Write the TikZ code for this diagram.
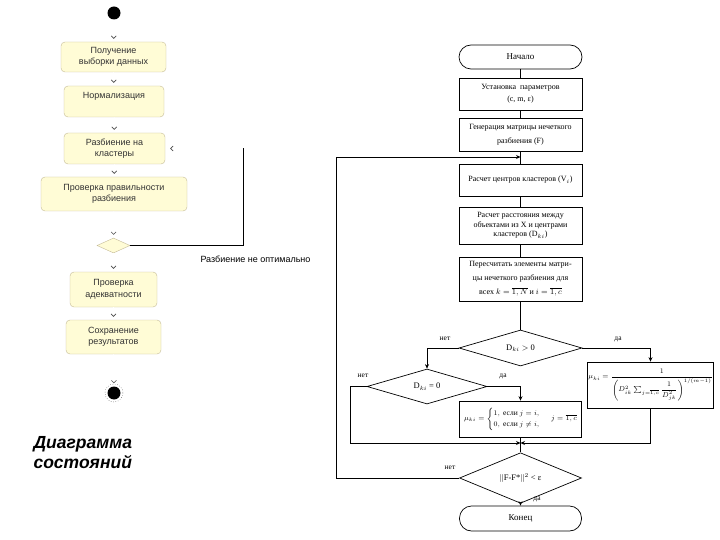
\documentclass[tikz,border=0pt]{standalone}
\usepackage{amsmath}
\usepackage{fontspec}
\setmainfont{Liberation Serif}
\setsansfont{Liberation Sans}
\usetikzlibrary{shapes.geometric,arrows.meta}

\definecolor{umlfill}{RGB}{255,252,214}
\definecolor{umlline}{RGB}{196,186,150}

\begin{document}
\begin{tikzpicture}[x=1pt,y=-1pt]
\useasboundingbox (0,0) rectangle (720,540);

% Styles
\tikzset{
    state/.style={draw=umlline, fill=umlfill, rounded corners=4pt, align=center,
        font=\sffamily\fontsize{9}{11.5}\selectfont, text=black!80, inner sep=1pt},
    choice/.style={diamond, draw=umlline, fill=umlfill, minimum width=33pt,
        minimum height=15pt, inner sep=0pt},
    dot/.style={circle, fill=black, minimum size=13pt, inner sep=0pt},
    uml/.style={draw=white, line width=0.6pt, shorten >=3pt,
        -{Straight Barb[length=2.5pt,width=5pt,color=black!70]}},
    block/.style={draw, rectangle, minimum width=123pt, align=center,
        font=\fontsize{8}{12}\selectfont, inner sep=1pt, line width=0.7pt},
    cond/.style={diamond, draw, line width=0.7pt, inner sep=0pt,
        font=\fontsize{8.5}{10}\selectfont},
    arr/.style={-{Stealth[length=4.5pt,width=4pt]}},
    lbl/.style={font=\fontsize{7.5}{9}\selectfont}
}

% State diagram
\node[dot] (start) at (114,13) {};
\node[state, minimum width=105pt, minimum height=30pt] (get) at (113.5,57) {Получение\\выборки данных};
\node[state, minimum width=100pt, minimum height=31pt] (norm) at (114,101.5) {Нормализация\\~};
\node[state, minimum width=101pt, minimum height=31pt] (split) at (114.5,148.5) {Разбиение на\\кластеры};
\node[state, minimum width=146pt, minimum height=34pt] (check) at (114,194) {Проверка правильности\\разбиения};
\node[choice] (ok) at (113.5,245.5) {};
\node[state, minimum width=87pt, minimum height=35pt] (adeq) at (113.5,289.5) {Проверка\\адекватности};
\node[state, minimum width=95pt, minimum height=34pt] (save) at (113.5,337) {Сохранение\\результатов};
\node[dot] (fin) at (114,393) {};
\draw[dotted] (fin) circle (9);

\foreach \a/\b in {start/get, get/norm, norm/split, split/check, check/ok, ok/adeq, adeq/save, save/fin}
    \draw[uml] (\a) -- (\b);

% back to clustering
\coordinate (back) at (243,148.5);
\draw[line width=0.7pt] (ok.east) -| (back);
\draw[uml, shorten >=5pt] (back) -- (split.east);
\node[anchor=west, font=\sffamily\fontsize{9}{11}\selectfont] (msg) at (197,259) {Разбиение не оптимально};

\node[anchor=west, align=left, font=\sffamily\bfseries\itshape\fontsize{17.5}{20}\selectfont] (title) at (30,453) {Диаграмма\\состояний};

% Flowchart
\node[block, rounded corners=12pt, minimum height=24pt, font=\fontsize{9}{11}\selectfont] (begin) at (520.5,57) {Начало};
\node[block, minimum height=32pt] (par) at (520.5,94) {Установка \ параметров\\(c, m, ε)};
\node[block, minimum height=33pt, font=\fontsize{8}{14}\selectfont] (gen) at (520.5,134.5) {Генерация матрицы нечеткого\\разбиения (F)};
\node[block, minimum height=32pt] (cent) at (520.5,180) {Расчет центров кластеров (V$_i$)};
\node[block, minimum height=37pt, font=\fontsize{8}{9.5}\selectfont] (dist) at (520.5,225.5) {Расчет расстояния между\\объектами из X и центрами\\кластеров (D$_{ki}$)};
\node[block, minimum height=44pt, font=\fontsize{8}{14}\selectfont] (upd) at (520.5,279) {Пересчитать элементы матри-\\цы нечеткого разбиения для\\всех $k=\overline{1,N}$ и $i=\overline{1,c}$};
\node[cond, minimum width=123pt, minimum height=36pt] (pos) at (520.5,348) {D$_{ki}$ $>$ 0};
\node[cond, minimum width=120pt, minimum height=35pt] (zero) at (427,386.5) {D$_{ki}$ = 0};
\node[block, minimum width=122pt, minimum height=36pt, font=\fontsize{7.5}{9}\selectfont] (crisp) at (520.5,419) {$\mu_{ki}=\begin{cases}1,\text{ если } j=i,\\0,\text{ если } j\neq i,\end{cases}\ j=\overline{1,c}$};
\node[block, minimum height=46pt, font=\fontsize{7}{8}\selectfont] (fuzzy) at (650.5,385) {$\mu_{ki}=\dfrac{1}{\left(D_{ik}^{2}\sum_{j=\overline{1,c}}\dfrac{1}{D_{jk}^{2}}\right)^{1/(m-1)}}$};
\coordinate (join) at (520.5,443);
\node[cond, minimum width=122pt, minimum height=34pt] (conv) at (520.5,478) {$\|$F-F*$\|^2$ < ε};
\node[block, rounded corners=12pt, minimum width=122pt, minimum height=25pt, font=\fontsize{9}{11}\selectfont] (stop) at (520.5,518.5) {Конец};
\coordinate (loop) at (520.5,157);

\draw[line width=0.7pt] (begin) -- (par) -- (gen) -- (cent) -- (dist) -- (upd) -- (pos);
\draw[line width=0.7pt, arr] (pos.west) -| (zero.north);
\draw[line width=0.7pt, arr] (pos.east) -| (fuzzy.north);
\draw[line width=0.7pt, arr] (zero.east) -| (crisp.north);
\draw[line width=0.7pt] (crisp) -- (conv);
\draw[line width=0.7pt, arr] (zero.west) -- ++(-16,0) |- (join);
\draw[line width=0.7pt, arr] (fuzzy.south) |- (join);
\draw[line width=0.7pt, arr] (conv.west) -- ++(-123,0) |- (loop);
\draw[line width=0.7pt, arr] (conv) -- (stop);

% yes / no
\node[lbl] (no1) at (445,339) {нет};
\node[lbl] (yes1) at (618,339) {да};
\node[lbl] (no2) at (363,376) {нет};
\node[lbl] (yes2) at (503,376) {да};
\node[lbl] (no3) at (450,468) {нет};
\node[lbl] (yes3) at (537,499) {да};
\end{tikzpicture}
\end{document}
